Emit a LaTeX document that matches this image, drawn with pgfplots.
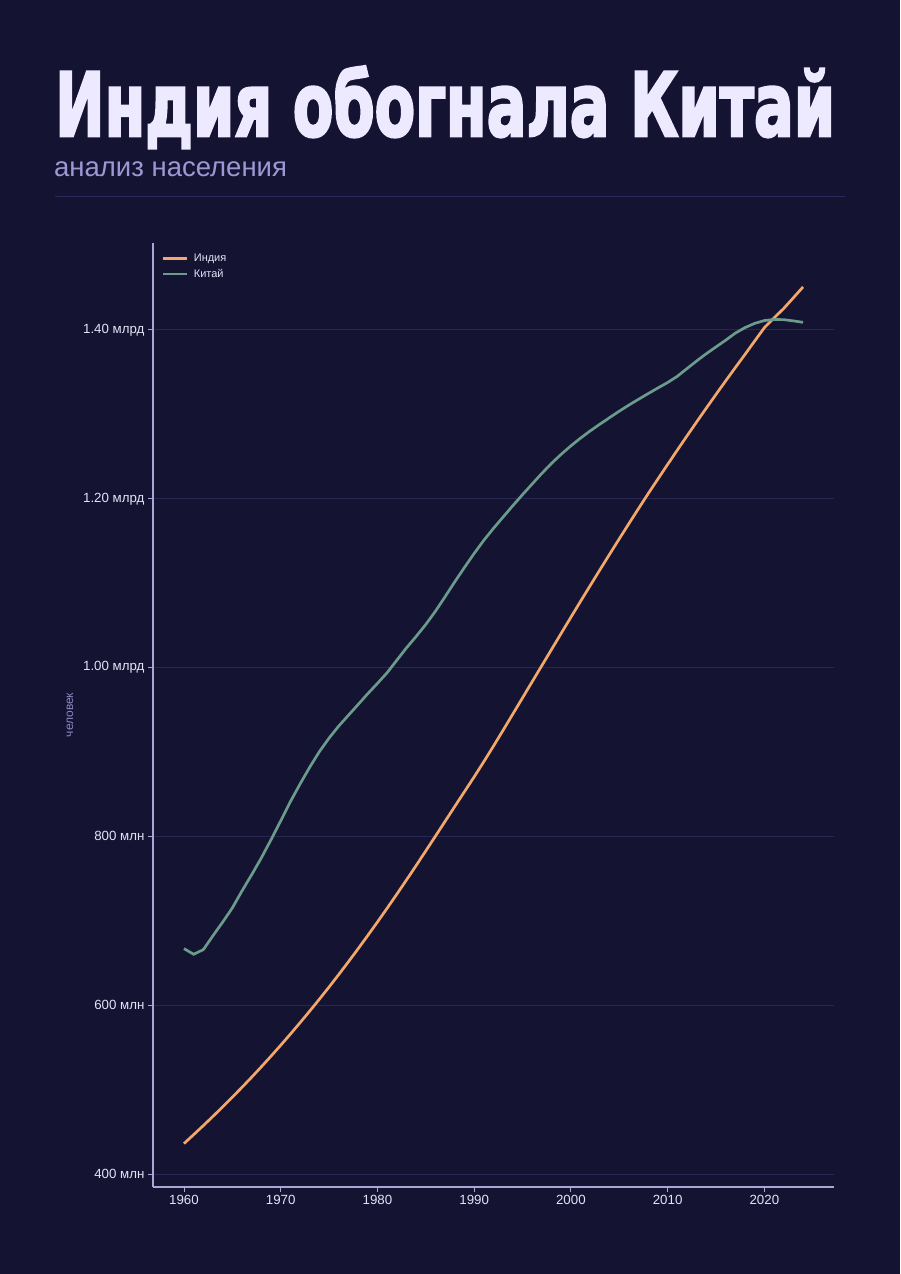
\documentclass[border=0pt]{standalone}
\usepackage{fontspec}
\setmainfont{Liberation Sans}
\newfontfamily\titlefont{DejaVu Sans}[UprightFont=* Bold, FakeBold=3.2]
\usepackage{graphicx}
\usepackage{pgfplots}
\usepackage{pgfplotstable}
\pgfplotsset{compat=1.18}
\definecolor{bg}{RGB}{20,19,50}
\definecolor{titlec}{RGB}{237,234,255}
\definecolor{subc}{RGB}{157,152,212}
\definecolor{sepc}{RGB}{44,41,92}
\definecolor{spinec}{RGB}{170,166,214}
\definecolor{gridc}{RGB}{40,38,82}
\definecolor{tickc}{RGB}{228,226,245}
\definecolor{ylabc}{RGB}{140,136,196}
\definecolor{indiac}{RGB}{244,167,106}
\definecolor{chinac}{RGB}{107,155,138}
\pgfplotstableread{
year india china
1960 436.0 667.07
1961 446.6 660.33
1962 457.3 665.77
1963 468.3 682.34
1964 479.5 698.36
1965 491.0 715.19
1966 502.7 735.40
1967 514.7 754.55
1968 527.0 774.51
1969 539.6 796.03
1970 552.5 818.32
1971 565.7 841.11
1972 579.2 862.03
1973 593.0 881.94
1974 607.1 900.35
1975 621.5 916.40
1976 636.3 930.69
1977 651.4 943.46
1978 666.8 956.17
1979 682.5 969.01
1980 698.5 981.24
1981 714.8 993.86
1982 731.4 1008.63
1983 748.3 1023.31
1984 765.4 1036.83
1985 782.8 1051.04
1986 800.3 1066.79
1987 817.9 1084.04
1988 835.5 1101.63
1989 853.0 1118.65
1990 870.5 1135.19
1991 888.5 1150.78
1992 907.0 1164.97
1993 925.9 1178.44
1994 945.0 1191.84
1995 964.1 1204.86
1996 983.3 1217.55
1997 1002.4 1230.08
1998 1021.5 1241.94
1999 1040.6 1252.74
2000 1059.6 1262.65
2001 1078.5 1271.85
2002 1097.2 1280.40
2003 1115.8 1288.40
2004 1134.2 1296.08
2005 1152.5 1303.72
2006 1170.6 1311.02
2007 1188.5 1317.89
2008 1206.2 1324.66
2009 1223.5 1331.26
2010 1240.6 1337.71
2011 1257.6 1345.04
2012 1274.4 1354.19
2013 1291.0 1363.24
2014 1307.4 1371.86
2015 1323.6 1379.86
2016 1339.6 1387.79
2017 1355.4 1396.22
2018 1371.0 1402.76
2019 1386.9 1407.75
2020 1402.6 1411.10
2021 1414.2 1412.36
2022 1425.4 1412.18
2023 1438.1 1410.71
2024 1450.9 1408.98
}\poptable
\begin{document}
\begin{tikzpicture}[x=1pt,y=1pt]
\fill[bg] (0,0) rectangle (900,1274);
\useasboundingbox (0,0) rectangle (900,1274);
\node[anchor=base west, inner sep=0, text=titlec] at (55,1138)
  {\resizebox{780pt}{\height}{\titlefont\fontsize{88}{88}\selectfont Индия обогнала Китай}};
\node[anchor=base west, inner sep=0, text=subc] at (54,1097)
  {\fontsize{27.5}{32}\selectfont анализ населения};
\draw[sepc, line width=1pt] (55,1077) -- (845,1077);
\begin{axis}[
  at={(153pt,87pt)}, anchor=south west,
  scale only axis, width=681pt, height=944pt,
  xmin=1956.8, xmax=2027.2, ymin=384.6, ymax=1503.0,
  axis lines*=left,
  axis line style={spinec, line width=1.1pt},
  tick align=outside, major tick length=5pt,
  tick style={spinec, line width=0.9pt},
  xtick={1960,1970,1980,1990,2000,2010,2020},
  xticklabels={1960,1970,1980,1990,2000,2010,2020},
  ytick={400,600,800,1000,1200,1400},
  yticklabels={400 млн,600 млн,800 млн,1.00 млрд,1.20 млрд,1.40 млрд},
  ticklabel style={font=\fontsize{13.3}{16}\selectfont, text=tickc},
  ymajorgrids, grid style={gridc, line width=1pt},
  ylabel={человек},
  ylabel style={font=\fontsize{12}{14}\selectfont, text=ylabc, at={(axis description cs:-0.122,0.5)}, anchor=center},
  legend style={at={(0.008,0.992)}, anchor=north west, draw=none, fill=none,
    font=\fontsize{11}{13}\selectfont, text=tickc, row sep=3pt,
    nodes={inner sep=1.5pt}},
  legend cell align=left,
  legend image code/.code={\draw[#1, line width=2.7pt] (0pt,0pt) -- (24pt,0pt);},
]
\addplot[indiac, line width=2.7pt] table[x=year, y=india] {\poptable};
\addlegendentry{\hspace{4pt}Индия}
\addplot[chinac, line width=2.7pt] table[x=year, y=china] {\poptable};
\addlegendentry{\hspace{4pt}Китай}
\end{axis}
\end{tikzpicture}
\end{document}
